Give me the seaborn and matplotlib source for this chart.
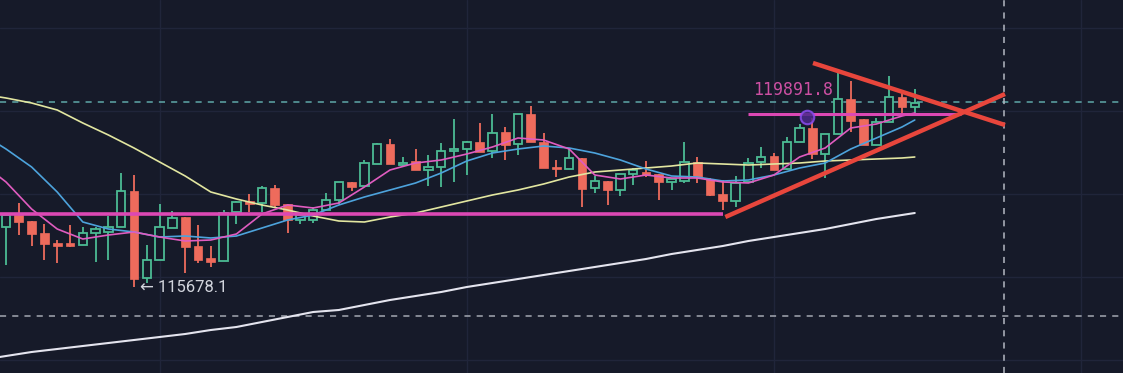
import numpy as np
import pandas as pd
import seaborn as sns
import matplotlib.pyplot as plt

## candle data (one entry per bar, left to right)
opens = [117175, 117475, 117325, 117025, 116775, 116775, 116725, 117025, 117050, 117175,
         118075, 115900, 116350, 117150, 117425, 116700, 116400, 116325, 117550, 117825,
         117775, 118150, 117750, 117350, 117350, 117600, 117850, 118300, 118200, 118750,
         119250, 118725, 118825, 118600, 118675, 119075, 119125, 119300, 119075, 119550,
         119250, 120000, 119300, 118675, 118625, 118900, 118150, 118325, 118100, 118500,
         118550, 118500, 118300, 118325, 118800, 118375, 118000, 117825, 118300, 118800,
         118950, 118625, 119300, 119650, 119000, 119500, 120375, 119875, 119225, 119800,
         120425, 120175]
highs = [117525, 117775, 117325, 117250, 116850, 117225, 117175, 117175, 117450, 118525,
         118475, 116725, 117750, 117575, 117425, 117225, 116700, 117600, 117825, 118000,
         118200, 118225, 117750, 117475, 117675, 118025, 118300, 118300, 118850, 119275,
         119375, 118925, 119125, 118975, 119275, 119875, 119325, 119775, 120000, 119675,
         120000, 120200, 119525, 118850, 119150, 118900, 118450, 118325, 118500, 118650,
         118825, 118500, 118375, 119300, 118925, 118400, 118350, 118450, 118900, 119175,
         119025, 119425, 119750, 119890, 119500, 121025, 120825, 119875, 119900, 120950,
         120525, 120625]
lows = [116225, 116975, 116700, 116350, 116275, 116675, 116725, 116300, 116350, 117175,
        115678, 115775, 116350, 117150, 116025, 116275, 116175, 116325, 117250, 117550,
        117550, 117650, 117025, 117250, 117275, 117600, 117750, 118075, 118200, 118750,
        118750, 118675, 118600, 118200, 118175, 118300, 118475, 119050, 118900, 118850,
        118975, 119300, 118650, 118425, 118625, 117675, 118025, 117725, 117950, 118225,
        118425, 117850, 118100, 118275, 118275, 117950, 117600, 117675, 118300, 118650,
        118600, 118600, 119300, 118875, 118400, 119500, 119550, 119225, 119225, 119800,
        119975, 120025]
closes = [117475, 117300, 117000, 116750, 116700, 116700, 117025, 117125, 117175, 118075,
          115875, 116350, 117175, 117400, 116675, 116350, 116300, 117525, 117800, 117750,
          118150, 117725, 117350, 117475, 117600, 117850, 118300, 118175, 118775, 119250,
          118750, 118775, 118600, 118675, 119075, 119125, 119300, 119050, 119525, 119225,
          120000, 119300, 118650, 118625, 118900, 118125, 118325, 118100, 118500, 118600,
          118475, 118300, 118375, 118800, 118425, 117975, 117825, 118275, 118775, 118925,
          118600, 119300, 119650, 119000, 119500, 120375, 119825, 119225, 119800, 120425,
          120175, 120275]

## moving averages, read at every second bar
ma_idx = [-0.5] + list(range(0, 71, 2)) + [71]
ma_fast = [118425, 118300, 117625, 117125, 116875, 116975, 117050, 116925, 116825, 116850,
           117000, 117500, 117725, 117650, 117775, 118175, 118600, 118775, 118850, 119000,
           119175, 119400, 119350, 119125, 118475, 118375, 118475, 118400, 118400, 118300,
           118275, 118475, 118925, 119150, 119650, 119750, 119950, 120025]
ma_mid = [119225, 119125, 118675, 118050, 117300, 117125, 117050, 116925, 116950, 116900,
          116950, 117150, 117350, 117475, 117725, 117925, 118100, 118275, 118525, 118825,
          119025, 119125, 119200, 119150, 119025, 118850, 118625, 118450, 118425, 118325,
          118350, 118475, 118650, 118775, 119125, 119400, 119675, 119850]
ma_slow = [120425, 120400, 120275, 120100, 119775, 119475, 119150, 118800, 118450, 118050,
           117875, 117725, 117600, 117450, 117325, 117300, 117425, 117525, 117675, 117825,
           117975, 118100, 118250, 118425, 118550, 118600, 118650, 118700, 118775, 118750,
           118725, 118750, 118775, 118825, 118850, 118875, 118900, 118925]
ma_long = [113925, 113950, 114050, 114125, 114200, 114275, 114350, 114425, 114500, 114600,
           114675, 114800, 114925, 115050, 115100, 115225, 115350, 115450, 115550, 115675,
           115775, 115875, 115975, 116075, 116175, 116275, 116375, 116500, 116600, 116700,
           116825, 116925, 117025, 117125, 117250, 117375, 117475, 117525]

## drawn levels / trend lines
support_level = 117510
resist_level = 120000
last_price = 120300
low_dash = 114940
lower_trend = ([56.2, 78.05], [117425, 120500])
upper_trend = ([63.05, 78.05], [121275, 119725])
marked_high = 119891.8
marked_low = 115678.1

bg = "#161a29"
up_col = "#4cbb94"
dn_col = "#ee6b5c"

sns.set_theme(style="dark", rc={"axes.facecolor": bg, "figure.facecolor": bg,
                                "grid.color": "#20253a", "axes.grid": True})
plt.rcParams['font.family'] = ['Roboto', 'DejaVu Sans']

fig = plt.figure(figsize=(11.23, 3.73), dpi=100)
ax = fig.add_axes([0, 0, 1, 1])

df = pd.DataFrame({"o": opens, "h": highs, "l": lows, "c": closes})
df["i"] = np.arange(len(df))
df["up"] = df["c"] >= df["o"]
df["col"] = np.where(df["up"], up_col, dn_col)
df["bot"] = df[["o", "c"]].min(axis=1)
df["hgt"] = (df["c"] - df["o"]).abs().clip(lower=30)

# wicks then bodies
ax.vlines(df["i"], df["l"], df["h"], colors=df["col"], linewidth=1.3, zorder=2)
upd = df[df["up"]]
dnd = df[~df["up"]]
ax.bar(upd["i"], upd["hgt"], bottom=upd["bot"], width=0.66, facecolor=bg,
       edgecolor=up_col, linewidth=1.3, zorder=3)
ax.bar(dnd["i"], dnd["hgt"], bottom=dnd["bot"], width=0.68, color=dn_col,
       edgecolor=dn_col, linewidth=0.5, zorder=3)

# moving averages
sns.lineplot(x=ma_idx, y=ma_long, color="#e4e4ee", linewidth=1.5, ax=ax, zorder=4)
sns.lineplot(x=ma_idx, y=ma_slow, color="#e2e6a0", linewidth=1.2, ax=ax, zorder=4)
sns.lineplot(x=ma_idx, y=ma_mid, color="#4da3dc", linewidth=1.2, ax=ax, zorder=4)
sns.lineplot(x=ma_idx, y=ma_fast, color="#e05cc0", linewidth=1.2, ax=ax, zorder=4)

# price lines
ax.axhline(last_price, color="#5fa7a8", linewidth=1.1, dashes=(4, 4), zorder=1)
ax.axhline(low_dash, color="#a4a8b2", linewidth=1.1, dashes=(4, 4), zorder=1)
ax.axvline(78, color="#b4b8c2", linewidth=1.1, dashes=(4, 4), zorder=1)

# drawings
ax.hlines(support_level, -0.5, 56, color="#dc48b4", linewidth=2.6, zorder=5)
ax.hlines(resist_level, 58.0, 74.6, color="#dc48b4", linewidth=2.2, zorder=5)
ax.plot(*lower_trend, color="#e8463c", linewidth=3.2, solid_capstyle="butt", zorder=6)
ax.plot(*upper_trend, color="#e8463c", linewidth=3.2, solid_capstyle="butt", zorder=6)
ax.scatter([62.6], [119925], s=95, facecolor="#4a2a8a", edgecolor="#8a4cf0",
           linewidth=1.5, alpha=0.85, zorder=7)

ax.text(58.35, 120600, f"{marked_high}", color="#cc4fa2", fontsize=12,
        family=["DejaVu Sans Mono"], ha="left", va="center", zorder=8)
ax.text(10.45, 115650, f"\u2190 {marked_low}", color="#d2d5dd", fontsize=12,
        ha="left", va="center", zorder=8)

ax.set_xlim(-0.47, 87.27)
ax.set_ylim(113525, 122850)
ax.set_xticks([12, 36, 60, 84])
ax.set_yticks([122150, 120075, 118000, 115925, 113850])
ax.tick_params(labelbottom=False, labelleft=False, length=0)
ax.grid(True, color="#20253a", linewidth=1)
for s in ax.spines.values():
    s.set_visible(False)
ax.set_xlabel("")
ax.set_ylabel("")

fig.savefig("out.png", dpi=100, facecolor=bg)
